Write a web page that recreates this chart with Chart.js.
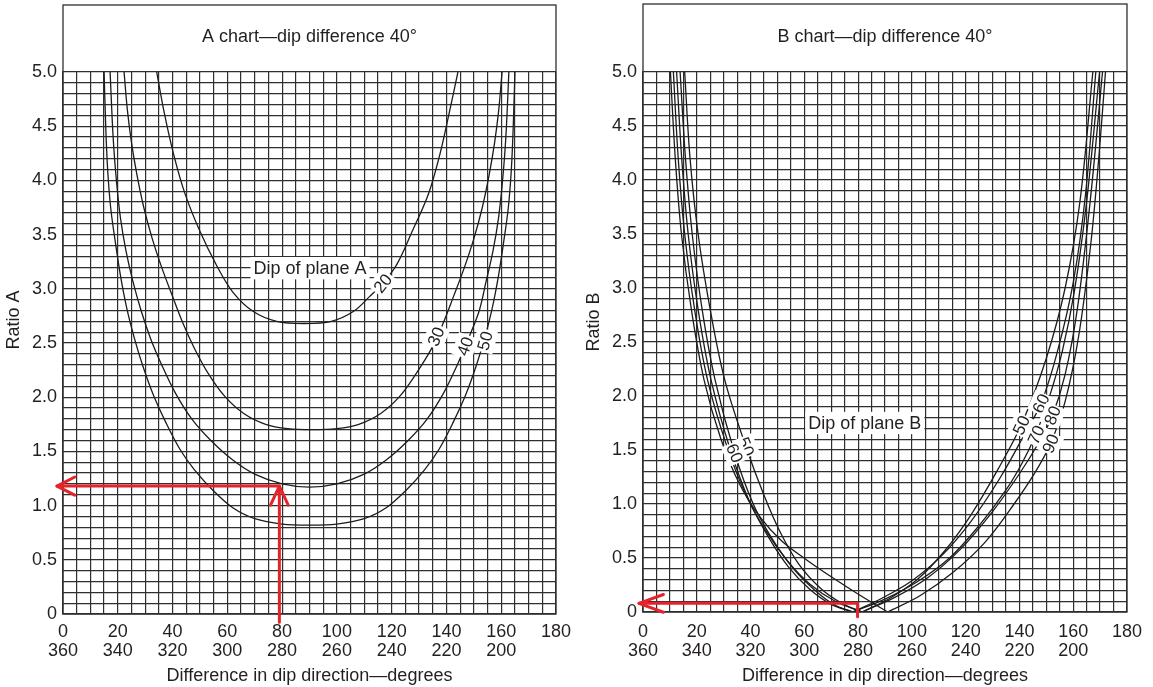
<!DOCTYPE html>
<html><head><meta charset="utf-8">
<script src="https://cdn.jsdelivr.net/npm/chart.js@4/dist/chart.umd.min.js"></script>
<style>
html,body{margin:0;padding:0;background:#fff;}
#wrap{position:relative;width:1153px;height:687px;overflow:hidden;background:#fff;}
canvas{position:absolute;top:0;}
#cA{left:0;} #cB{left:580px;}
</style></head><body>
<div id="wrap"><canvas id="cA" width="580" height="687"></canvas><canvas id="cB" width="573" height="687"></canvas></div>
<script>
// ---------------- tick labels ----------------
const xTickValues = [0, 20, 40, 60, 80, 100, 120, 140, 160, 180];
const xTopLabels = ['0', '20', '40', '60', '80', '100', '120', '140', '160', '180'];
const xBottomLabels = ['360', '340', '320', '300', '280', '260', '240', '220', '200', ''];
const yTickValues = [0, 0.5, 1, 1.5, 2, 2.5, 3, 3.5, 4, 4.5, 5];
const yTickLabels = ['0', '0.5', '1.0', '1.5', '2.0', '2.5', '3.0', '3.5', '4.0', '4.5', '5.0'];

// ---------------- A chart: dip of plane A ----------------
const dipA20X = [34.2, 37, 40.3, 44.5, 50, 56, 62, 69.5, 78, 88, 98, 106, 112, 116.8, 122, 127.5, 133.5, 137.7, 141, 144.2];
const dipA20Y = [5.0, 4.62, 4.25, 3.88, 3.53, 3.22, 2.97, 2.79, 2.70, 2.68, 2.70, 2.79, 2.93, 3.05, 3.23, 3.53, 3.88, 4.25, 4.62, 5.0];
const dipA30X = [22.3, 23.5, 25, 27, 29.5, 32.5, 36, 40, 44, 48, 53, 59, 66, 74, 82, 91, 100, 108, 116, 123, 129, 134.6, 138.6, 142.6, 146.6, 150.1, 153.1, 155.6, 157.6, 159.1, 160.3];
const dipA30Y = [5.0, 4.65, 4.35, 4.05, 3.75, 3.47, 3.2, 2.93, 2.67, 2.45, 2.22, 2.01, 1.85, 1.75, 1.71, 1.70, 1.71, 1.75, 1.85, 2.01, 2.22, 2.45, 2.67, 2.93, 3.2, 3.47, 3.75, 4.05, 4.35, 4.65, 5.0];
const dipA40X = [17.2, 18.3, 19.5, 21, 23, 25.5, 28.5, 32, 36, 41, 47, 54, 62, 70, 80, 90, 100, 110, 118, 126, 133, 139, 144, 148, 152, 154.5, 157, 159, 160.5, 161.7, 162.8];
const dipA40Y = [5.0, 4.4, 4.0, 3.65, 3.35, 3.07, 2.8, 2.54, 2.3, 2.04, 1.8, 1.6, 1.42, 1.29, 1.2, 1.17, 1.2, 1.29, 1.42, 1.6, 1.8, 2.04, 2.3, 2.54, 2.8, 3.07, 3.35, 3.65, 4.0, 4.4, 5.0];
const dipA50X = [15.0, 15.6, 16.3, 17.4, 19, 21, 23.3, 26, 29, 33, 37.5, 42.7, 48, 54.8, 62, 70, 80, 90, 100, 110, 118, 125.2, 132, 137.3, 142.5, 147, 151, 154, 156.7, 159, 161, 162.6, 163.7, 164.4, 165];
const dipA50Y = [5.0, 4.5, 4.1, 3.75, 3.45, 3.12, 2.82, 2.55, 2.3, 2.02, 1.77, 1.52, 1.33, 1.14, 0.98, 0.88, 0.83, 0.82, 0.83, 0.88, 0.98, 1.14, 1.33, 1.52, 1.77, 2.02, 2.3, 2.55, 2.82, 3.12, 3.45, 3.75, 4.1, 4.5, 5.0];

// ---------------- B chart: dip of plane B (left / right branches) ----------------
const dipB50LX = [15.5, 17.5, 20.5, 25, 30.4, 38.3, 45, 51, 58, 66, 74, 81.5];
const dipB50LY = [5.0, 4.2, 3.5, 2.8, 2.15, 1.53, 1.08, 0.74, 0.44, 0.22, 0.08, 0];
const dipB50RX = [81.5, 92, 102, 112, 122, 132, 141, 150, 157, 162.5, 167.3];
const dipB50RY = [0, 0.13, 0.3, 0.56, 0.9, 1.32, 1.75, 2.35, 3.0, 3.8, 5.0];
const dipB60LX = [13.8, 15.8, 18.3, 22, 26.8, 34.1, 41, 48, 56, 64, 71, 78];
const dipB60LY = [5.0, 4.2, 3.5, 2.8, 2.15, 1.47, 1.0, 0.68, 0.4, 0.2, 0.07, 0];
const dipB60RX = [78, 89, 100, 111, 122, 133, 142, 148, 154, 160, 164.5, 168.4];
const dipB60RY = [0, 0.13, 0.29, 0.52, 0.84, 1.25, 1.65, 1.93, 2.4, 3.05, 3.85, 5.0];
const dipB70LX = [12.5, 14.4, 16.8, 20.5, 25.3, 32.5, 39.5, 46.5, 54, 62, 70, 78];
const dipB70LY = [5.0, 4.2, 3.5, 2.8, 2.15, 1.5, 1.03, 0.7, 0.42, 0.21, 0.07, 0];
const dipB70RX = [78, 90, 102, 114, 125, 135, 141, 146, 151, 156, 160.5, 165, 169.8];
const dipB70RY = [0, 0.12, 0.28, 0.5, 0.8, 1.13, 1.38, 1.64, 1.98, 2.42, 2.98, 3.8, 5.0];
const dipB80LX = [11.3, 13.1, 15.5, 19.2, 24, 31, 38, 45.5, 53.5, 62, 71.5, 81.5];
const dipB80LY = [5.0, 4.2, 3.5, 2.8, 2.15, 1.55, 1.1, 0.76, 0.48, 0.26, 0.1, 0];
const dipB80RX = [81.5, 94, 106, 118, 130, 140, 147, 152.3, 157, 161.5, 166.3, 170.9];
const dipB80RY = [0, 0.14, 0.32, 0.58, 0.93, 1.28, 1.56, 1.82, 2.2, 2.8, 3.8, 5.0];
const dipB90LX = [10.2, 12, 14.3, 18, 22.7, 29, 36, 43.5, 51.5, 61, 71, 81, 91];
const dipB90LY = [5.0, 4.2, 3.5, 2.8, 2.15, 1.6, 1.18, 0.88, 0.66, 0.48, 0.31, 0.15, 0];
const dipB90RX = [91, 103, 115, 127, 138, 146, 151.6, 157, 162, 166.5, 169.5, 172];
const dipB90RY = [0, 0.15, 0.36, 0.64, 1.0, 1.3, 1.56, 1.95, 2.55, 3.4, 4.2, 5.0];

// ---------------- red worked-example arrows ----------------
const arrowAX = [79, 79, -2.2];
const arrowAY = [-0.075, 1.18, 1.18];
const arrowBX = [79.8, 79.8, -1.5];
const arrowBY = [-0.045, 0.08, 0.08];

// ---------------- styles ----------------
const FF = "'Liberation Sans', Arial, Helvetica, sans-serif";
const TXT = '#231f20';
const GRID = '#2f2f2f';
const CURVE = '#1c1c1c';
const RED = '#e4232b';

function pts(xs, ys) { return xs.map((x, i) => ({ x: x, y: ys[i] })); }
function curveDs(xs, ys) {
  return { data: pts(xs, ys), borderColor: CURVE, borderWidth: 1.3, pointRadius: 0,
           fill: false, tension: 0.35 };
}
function xTickCb(v) {
  const i = xTickValues.indexOf(v);
  return i >= 0 ? [xTopLabels[i], xBottomLabels[i]] : '';
}
function yTickCb(v) {
  for (let i = 0; i < yTickValues.length; i++) if (Math.abs(yTickValues[i] - v) < 1e-6) return yTickLabels[i];
  return '';
}

function tag(ctx, px, py, text, rotDeg, size, pad) {
  ctx.save();
  ctx.translate(px, py);
  ctx.rotate(rotDeg * Math.PI / 180);
  ctx.font = size + 'px ' + FF;
  const w = ctx.measureText(text).width;
  ctx.fillStyle = '#ffffff';
  ctx.fillRect(-w / 2 - pad, -size * 0.62, w + 2 * pad, size * 1.24);
  ctx.fillStyle = TXT;
  ctx.textAlign = 'center';
  ctx.textBaseline = 'middle';
  ctx.fillText(text, 0, 1);
  ctx.restore();
}

function redArrow(ctx, xs, ys, ax, ay, heads) {
  const P = ax.map((x, i) => [xs.getPixelForValue(x), ys.getPixelForValue(ay[i])]);
  ctx.save();
  ctx.strokeStyle = RED; ctx.lineWidth = 3; ctx.lineCap = 'round'; ctx.lineJoin = 'round';
  ctx.beginPath();
  ctx.moveTo(P[0][0], P[0][1]);
  for (let i = 1; i < P.length; i++) ctx.lineTo(P[i][0], P[i][1]);
  ctx.stroke();
  heads.forEach(h => {
    const [tx, ty] = P[h.at], [fx, fy] = P[h.from];
    const ang = Math.atan2(ty - fy, tx - fx), L = h.len, s = h.spread * Math.PI / 180;
    ctx.beginPath();
    ctx.moveTo(tx - L * Math.cos(ang - s), ty - L * Math.sin(ang - s));
    ctx.lineTo(tx, ty);
    ctx.lineTo(tx - L * Math.cos(ang + s), ty - L * Math.sin(ang + s));
    ctx.stroke();
  });
  ctx.restore();
}

function panelPlugin(p) {
  return {
    id: 'panelDeco',
    afterDatasetsDraw(chart) {
      const ctx = chart.ctx, xs = chart.scales.x, ys = chart.scales.y;
      p.tags.forEach(t => tag(ctx, xs.getPixelForValue(t.x), ys.getPixelForValue(t.y), t.text, t.rot, t.size, t.pad));
    },
    afterDraw(chart) {
      const ctx = chart.ctx, a = chart.chartArea, xs = chart.scales.x, ys = chart.scales.y;
      ctx.save();
      ctx.strokeStyle = GRID; ctx.lineWidth = 1.3;
      ctx.strokeRect(a.left, p.boxTop, a.right - a.left, a.bottom - p.boxTop);
      ctx.fillStyle = TXT; ctx.font = '18px ' + FF;
      ctx.textAlign = 'center'; ctx.textBaseline = 'middle';
      ctx.fillText(p.title, (a.left + a.right) / 2, p.titleY);
      ctx.translate(p.yTitleX, p.yTitleY); ctx.rotate(-Math.PI / 2);
      ctx.fillText(p.yTitle, 0, 0);
      ctx.restore();
      redArrow(ctx, xs, ys, p.arrowX, p.arrowY, p.heads);
    }
  };
}

function makeChart(id, o) {
  return new Chart(document.getElementById(id), {
    type: 'line',
    data: { datasets: o.datasets },
    options: {
      responsive: false, animation: false, events: [],
      layout: { padding: { top: 72, right: o.padRight, bottom: 0, left: 0 } },
      plugins: { legend: { display: false }, tooltip: { enabled: false }, title: { display: false } },
      scales: {
        x: {
          type: 'linear', min: 0, max: 180,
          afterFit: s => { s.height = o.xHeight; },
          grid: { color: GRID, lineWidth: 1.2, drawTicks: false },
          border: { color: GRID, width: 1.2 },
          ticks: { stepSize: 5, autoSkip: false, maxRotation: 0, minRotation: 0, padding: o.xPad,
                   color: TXT, font: { family: FF, size: 18, lineHeight: 1.05 }, callback: xTickCb },
          title: { display: true, text: 'Difference in dip direction\u2014degrees', color: TXT,
                   font: { family: FF, size: 18 }, padding: { top: 0, bottom: 0 } }
        },
        y: {
          type: 'linear', min: 0, max: 5,
          afterFit: s => { s.width = 63; },
          grid: { color: GRID, lineWidth: 1.2, drawTicks: false },
          border: { color: GRID, width: 1.2 },
          ticks: { stepSize: 0.1, autoSkip: false, padding: 6, color: TXT,
                   font: { family: FF, size: 18 }, callback: yTickCb },
          title: { display: false }
        }
      }
    },
    plugins: [panelPlugin(o.deco)]
  });
}

makeChart('cA', {
  padRight: 24, xHeight: 73, xPad: 9,
  datasets: [curveDs(dipA20X, dipA20Y), curveDs(dipA30X, dipA30Y), curveDs(dipA40X, dipA40Y), curveDs(dipA50X, dipA50Y)],
  deco: {
    boxTop: 5, title: 'A chart\u2014dip difference 40\u00b0', titleY: 37,
    yTitle: 'Ratio A', yTitleX: 14, yTitleY: 320,
    arrowX: arrowAX, arrowY: arrowAY,
    heads: [{ at: 1, from: 0, len: 21, spread: 25 }, { at: 2, from: 1, len: 20, spread: 27 }],
    tags: [
      { text: 'Dip of plane A', x: 90.2, y: 3.19, rot: 0, size: 18, pad: 3 },
      { text: '20', x: 116.8, y: 3.05, rot: -52, size: 17, pad: 2 },
      { text: '30', x: 136.2, y: 2.56, rot: -67, size: 17, pad: 2 },
      { text: '40', x: 146.8, y: 2.47, rot: -70, size: 17, pad: 2 },
      { text: '50', x: 154.1, y: 2.52, rot: -75, size: 17, pad: 2 }
    ]
  }
});

makeChart('cB', {
  padRight: 15, xHeight: 75, xPad: 11,
  datasets: [
    curveDs(dipB50LX, dipB50LY), curveDs(dipB50RX, dipB50RY),
    curveDs(dipB60LX, dipB60LY), curveDs(dipB60RX, dipB60RY),
    curveDs(dipB70LX, dipB70LY), curveDs(dipB70RX, dipB70RY),
    curveDs(dipB80LX, dipB80LY), curveDs(dipB80RX, dipB80RY),
    curveDs(dipB90LX, dipB90LY), curveDs(dipB90RX, dipB90RY)
  ],
  deco: {
    boxTop: 4, title: 'B chart\u2014dip difference 40\u00b0', titleY: 37,
    yTitle: 'Ratio B', yTitleX: 14, yTitleY: 322,
    arrowX: arrowBX, arrowY: arrowBY,
    heads: [{ at: 2, from: 1, len: 26, spread: 20 }],
    tags: [
      { text: 'Dip of plane B', x: 82.5, y: 1.75, rot: 0, size: 18, pad: 3 },
      { text: '50', x: 38.3, y: 1.53, rot: 68, size: 17, pad: 1 },
      { text: '60', x: 34.1, y: 1.47, rot: 68, size: 17, pad: 1 },
      { text: '50', x: 140.7, y: 1.73, rot: -65, size: 17, pad: 1 },
      { text: '60', x: 148, y: 1.93, rot: -66, size: 17, pad: 1 },
      { text: '70', x: 146.2, y: 1.64, rot: -66, size: 17, pad: 1 },
      { text: '80', x: 152.3, y: 1.82, rot: -68, size: 17, pad: 1 },
      { text: '90', x: 151.6, y: 1.56, rot: -67, size: 17, pad: 1 }
    ]
  }
});
</script>
</body></html>
